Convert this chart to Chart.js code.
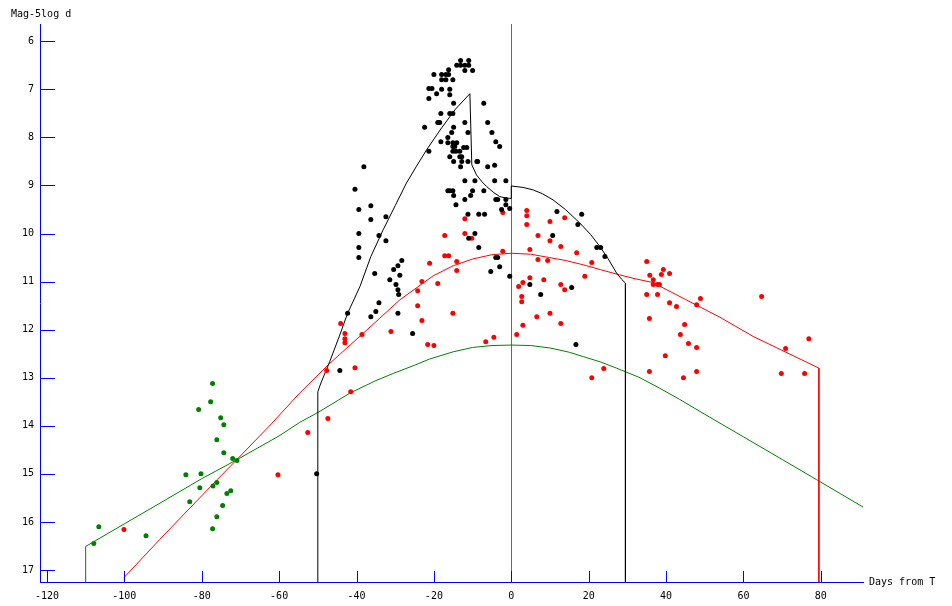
<!DOCTYPE html>
<html>
<head>
<meta charset="utf-8">
<script src="https://cdn.jsdelivr.net/npm/chart.js@4/dist/chart.umd.min.js"></script>
<style>
html, body { margin: 0; padding: 0; background: #fff; }
#wrap { width: 952px; height: 606px; }
</style>
</head>
<body>
<div id="wrap"><canvas id="myChart" width="952" height="606"></canvas></div>
<script>
// axis texts and ticks
const yTitle = 'Mag-5log d';
const xTitle = 'Days from T';
const xTicks = [-120, -100, -80, -60, -40, -20, 0, 20, 40, 60, 80];
const yTicks = [6, 7, 8, 9, 10, 11, 12, 13, 14, 15, 16, 17];
const X_MIN = -121.8, X_MAX = 90.9;
const Y_MIN = 5.64, Y_MAX = 17.25;

// observations [days from T, mag]
const blackObs = [
    [-13.1, 6.40], [-11.0, 6.40],
    [-14.1, 6.50], [-13.1, 6.50], [-12.0, 6.50], [-11.0, 6.50],
    [-16.2, 6.59], [-12.0, 6.61], [-10.0, 6.61],
    [-20.0, 6.69], [-18.0, 6.69], [-16.9, 6.69], [-16.2, 6.69],
    [-18.0, 6.80], [-16.9, 6.80], [-15.1, 6.80],
    [-21.3, 6.98], [-20.5, 6.98], [-18.0, 7.00], [-15.9, 7.00],
    [-19.3, 7.09], [-15.9, 7.11], [-21.3, 7.19],
    [-14.9, 7.29], [-7.1, 7.29],
    [-18.2, 7.50], [-15.9, 7.50], [-15.1, 7.50],
    [-19.0, 7.69], [-18.5, 7.69], [-12.0, 7.69], [-6.1, 7.69],
    [-22.4, 7.79], [-14.9, 7.79],
    [-15.4, 7.90], [-11.2, 7.90], [-5.0, 7.90],
    [-16.4, 8.00],
    [-18.2, 8.09], [-16.4, 8.11], [-15.1, 8.11], [-14.1, 8.11], [-4.0, 8.09],
    [-15.1, 8.19], [-14.6, 8.19], [-3.0, 8.19], [-12.3, 8.21], [-11.5, 8.21],
    [-21.3, 8.29], [-15.1, 8.29], [-14.3, 8.29], [-13.3, 8.29],
    [-15.9, 8.40], [-13.3, 8.40], [-12.8, 8.40],
    [-14.9, 8.50], [-12.8, 8.50], [-11.2, 8.50], [-8.9, 8.50], [-8.7, 8.50],
    [-13.1, 8.61], [-6.1, 8.61], [-4.3, 8.58], [-38.1, 8.61],
    [-12.0, 8.90], [-9.4, 8.90], [-4.3, 8.90], [-1.4, 8.90],
    [-40.4, 9.08], [-16.4, 9.11], [-15.9, 9.11], [-15.1, 9.11], [-10.0, 9.11], [-7.1, 9.11],
    [-14.9, 9.21], [-10.5, 9.21],
    [-12.0, 9.29], [-4.0, 9.29], [-3.5, 9.29], [-1.4, 9.29],
    [-36.3, 9.42], [-14.3, 9.40], [-1.4, 9.40],
    [-39.4, 9.50], [-2.5, 9.50], [-0.4, 9.48],
    [-11.2, 9.60], [-8.4, 9.60], [-6.9, 9.60],
    [-32.4, 9.65], [-36.3, 9.71],
    [-39.4, 10.00], [-34.2, 10.04], [-32.4, 10.15], [-9.4, 10.00], [-11.0, 10.10],
    [-8.4, 10.29], [-39.4, 10.29], [-39.4, 10.50],
    [-28.3, 10.56], [-29.3, 10.67], [-30.4, 10.75], [-35.3, 10.83], [-28.8, 10.87],
    [-31.4, 10.96], [-29.8, 11.06], [-29.3, 11.17], [-29.1, 11.27],
    [-34.2, 11.44], [-35.0, 11.62], [-36.3, 11.73], [-29.3, 11.66], [-42.3, 11.66],
    [-25.5, 12.08], [-44.3, 12.85], [-50.3, 15.00],
    [-4.0, 10.50], [-3.5, 10.50], [-3.0, 10.69], [-5.3, 10.79], [-0.4, 10.89],
    [11.8, 9.54], [18.2, 9.60], [17.2, 9.81], [10.7, 10.04], [22.1, 10.29], [23.1, 10.29], [24.2, 10.48],
    [4.8, 11.06], [15.6, 11.12], [7.6, 11.27], [16.7, 12.31]
];

const redObs = [
    [-2.2, 9.56], [4.0, 9.52], [4.0, 9.63], [4.0, 9.81], [-12.0, 9.69], [13.8, 9.67], [10.0, 9.75],
    [-17.2, 10.04], [-12.0, 10.00], [-10.2, 10.10], [6.9, 10.04], [10.0, 10.15], [12.8, 10.27],
    [4.8, 10.33], [-2.2, 10.37], [16.9, 10.40],
    [-17.2, 10.46], [-16.2, 10.46], [-21.1, 10.62], [-14.1, 10.58], [-14.1, 10.77], [6.9, 10.54],
    [9.4, 10.56], [20.8, 10.60], [19.0, 10.89],
    [-23.1, 11.00], [-24.2, 11.19], [-19.0, 11.04], [4.8, 10.92], [3.0, 11.02], [1.9, 11.10],
    [8.4, 10.96], [12.8, 11.06], [13.8, 11.17],
    [2.7, 11.31], [2.7, 11.42], [-24.2, 11.50], [-15.1, 11.66], [6.6, 11.73], [10.0, 11.66],
    [-23.1, 11.81], [12.8, 11.87], [3.0, 11.91],
    [1.4, 12.10], [-4.5, 12.16], [-6.6, 12.25], [-21.6, 12.31], [-20.0, 12.33], [23.9, 12.81], [20.8, 13.00],
    [-31.1, 12.04], [-44.1, 11.87], [-43.0, 12.08], [-43.0, 12.19], [-43.0, 12.27], [-38.6, 12.10],
    [-47.7, 12.85], [-40.4, 12.79], [-41.5, 13.29], [-47.4, 13.85], [-52.6, 14.14], [-60.3, 15.02],
    [-100.1, 16.16],
    [35.0, 10.58], [35.8, 10.87], [39.3, 10.75], [38.8, 10.85], [40.9, 10.83], [36.7, 10.96],
    [36.7, 11.06], [37.8, 11.06], [38.3, 11.06], [35.0, 11.27], [37.8, 11.27], [40.9, 11.44],
    [42.7, 11.52], [48.9, 11.35], [47.9, 11.48], [64.7, 11.31], [35.7, 11.77], [44.8, 11.89],
    [43.7, 12.10], [45.8, 12.29], [47.9, 12.37], [39.8, 12.54], [76.9, 12.19], [70.9, 12.39],
    [35.7, 12.87], [47.9, 12.87], [44.5, 13.00], [69.8, 12.91], [75.8, 12.91]
];

const greenObs = [
    [-77.2, 13.12], [-77.7, 13.50], [-80.8, 13.66], [-75.1, 13.83], [-74.3, 13.98], [-76.1, 14.29],
    [-74.3, 14.56], [-72.0, 14.68], [-70.9, 14.72], [-84.1, 15.02], [-80.2, 15.00], [-80.5, 15.29],
    [-77.1, 15.25], [-76.1, 15.18], [-83.1, 15.58], [-73.5, 15.41], [-72.5, 15.35], [-74.6, 15.66],
    [-76.1, 15.89], [-77.2, 16.14], [-106.6, 16.10], [-107.9, 16.45], [-94.4, 16.29]
];

// light curve models [days from T, mag]
const blackCurve = [
    [-50, 17.25], [-50, 13.29], [-49.2, 13.11], [-46.9, 12.66], [-44.5, 12.15], [-42.3, 11.66],
    [-39.1, 11.10], [-36.3, 10.48], [-33.1, 9.92], [-30, 9.42], [-27.1, 8.95], [-24.5, 8.60],
    [-21.9, 8.26], [-18, 7.80], [-14.4, 7.41], [-10.7, 7.09], [-10.2, 8.57], [-9.0, 8.78],
    [-7.5, 8.93], [-6.4, 9.02], [-4.5, 9.15], [-3.0, 9.23], [-1.5, 9.26], [0, 9.27], [0, 9.01],
    [3, 9.04], [5.6, 9.09], [8, 9.17], [10.8, 9.30], [14, 9.50], [17.7, 9.78], [20.5, 10.02],
    [22.9, 10.27], [25, 10.52], [27.2, 10.82], [28.5, 10.95], [29.5, 11.03], [29.5, 17.25]
];

const redCurve = [
    [-100, 17.25], [-100, 17.15], [-90.9, 16.37], [-76, 15.12], [-71, 14.71], [-62, 13.96],
    [-54.7, 13.32], [-46.9, 12.70], [-38.6, 12.10], [-28.8, 11.38], [-20.2, 10.88], [-15, 10.67],
    [-10, 10.53], [-5, 10.44], [0, 10.41], [5, 10.43], [9.9, 10.50], [14, 10.56], [18.6, 10.65],
    [23, 10.75], [28, 10.86], [32, 10.94], [36.6, 11.02], [45, 11.37], [53.9, 11.74],
    [62.5, 12.14], [71, 12.47], [79.5, 12.80], [79.5, 17.25]
];

const greenCurve = [
    [-110, 17.25], [-110, 16.51], [-100, 16.04], [-90.8, 15.61], [-80, 15.10], [-71, 14.71],
    [-60, 14.21], [-54.7, 13.93], [-49.7, 13.71], [-41.7, 13.32], [-35, 13.06], [-30.5, 12.91],
    [-25, 12.74], [-21.1, 12.61], [-15, 12.46], [-10, 12.37], [-5, 12.33], [0, 12.32], [5, 12.33],
    [10, 12.38], [15, 12.47], [18.6, 12.56], [23, 12.67], [27.2, 12.80], [33, 12.99],
    [38.4, 13.22], [43.5, 13.45], [50, 13.76], [60, 14.23], [70, 14.70], [78.9, 15.12], [90.9, 15.69]
];

const COLORS = {
    black: '#000000',
    red: '#ff0000',
    green: '#008000',
    axis: '#0000ff',
    peri: '#ff00ff'
};
const FONT = '"DejaVu Sans Mono", "Liberation Mono", monospace';

const toXY = arr => arr.map(([x, y]) => ({ x: x, y: y }));

function dots(data, color) {
    return {
        data: toXY(data),
        showLine: false,
        pointRadius: 2.5,
        pointBorderWidth: 0,
        pointBackgroundColor: color,
        order: 1
    };
}

function curve(data, color) {
    return {
        data: toXY(data),
        showLine: true,
        borderColor: color,
        borderWidth: 1,
        pointRadius: 0,
        tension: 0,
        fill: false,
        order: 2
    };
}

// inward tick marks, perihelion line, axis titles
const axisDecor = {
    id: 'axisDecor',
    beforeDatasetsDraw(chart) {
        const { ctx, chartArea: a, scales: { x } } = chart;
        const px = Math.round(x.getPixelForValue(0)) + 0.5;
        ctx.save();
        ctx.strokeStyle = COLORS.peri;
        ctx.lineWidth = 1;
        ctx.beginPath();
        ctx.moveTo(px, a.top);
        ctx.lineTo(px, a.bottom);
        ctx.stroke();
        ctx.restore();
    },
    afterDraw(chart) {
        const { ctx, chartArea: a, scales: { x, y } } = chart;
        ctx.save();
        ctx.strokeStyle = COLORS.axis;
        ctx.lineWidth = 1;
        ctx.beginPath();
        yTicks.forEach(v => {
            const py = Math.round(y.getPixelForValue(v)) + 0.5;
            ctx.moveTo(a.left, py);
            ctx.lineTo(a.left + 15, py);
        });
        xTicks.forEach(v => {
            const px = Math.round(x.getPixelForValue(v)) + 0.5;
            ctx.moveTo(px, a.bottom);
            ctx.lineTo(px, a.bottom - 11);
        });
        ctx.stroke();

        ctx.fillStyle = '#000';
        ctx.font = '10px ' + FONT;
        ctx.textAlign = 'left';
        ctx.textBaseline = 'middle';
        ctx.fillText(yTitle, 11, 14);
        ctx.fillText(xTitle, a.right + 6, a.bottom);
        ctx.restore();
    }
};

const config = {
    type: 'scatter',
    data: {
        datasets: [
            dots(blackObs, COLORS.black),
            dots(redObs, COLORS.red),
            dots(greenObs, COLORS.green),
            curve(blackCurve, COLORS.black),
            curve(redCurve, COLORS.red),
            curve(greenCurve, COLORS.green)
        ]
    },
    options: {
        responsive: false,
        animation: false,
        layout: { padding: { top: 24, right: 89, left: 0, bottom: 0 } },
        plugins: {
            legend: { display: false },
            tooltip: { enabled: false }
        },
        scales: {
            x: {
                type: 'linear',
                min: X_MIN,
                max: X_MAX,
                afterFit(s) { s.height = 24; },
                afterBuildTicks(s) { s.ticks = xTicks.map(v => ({ value: v })); },
                grid: { display: false, drawTicks: false },
                border: { display: true, color: COLORS.axis, width: 1 },
                ticks: {
                    color: '#000',
                    padding: 8,
                    autoSkip: false,
                    maxRotation: 0,
                    font: { family: FONT, size: 10 }
                }
            },
            y: {
                type: 'linear',
                reverse: true,
                min: Y_MIN,
                max: Y_MAX,
                afterFit(s) { s.width = 40; },
                afterBuildTicks(s) { s.ticks = yTicks.map(v => ({ value: v })); },
                grid: { display: false, drawTicks: false },
                border: { display: true, color: COLORS.axis, width: 1 },
                ticks: {
                    color: '#000',
                    padding: 6,
                    autoSkip: false,
                    font: { family: FONT, size: 10 }
                }
            }
        }
    },
    plugins: [axisDecor]
};

const myChart = new Chart(document.getElementById('myChart'), config);
</script>
</body>
</html>
